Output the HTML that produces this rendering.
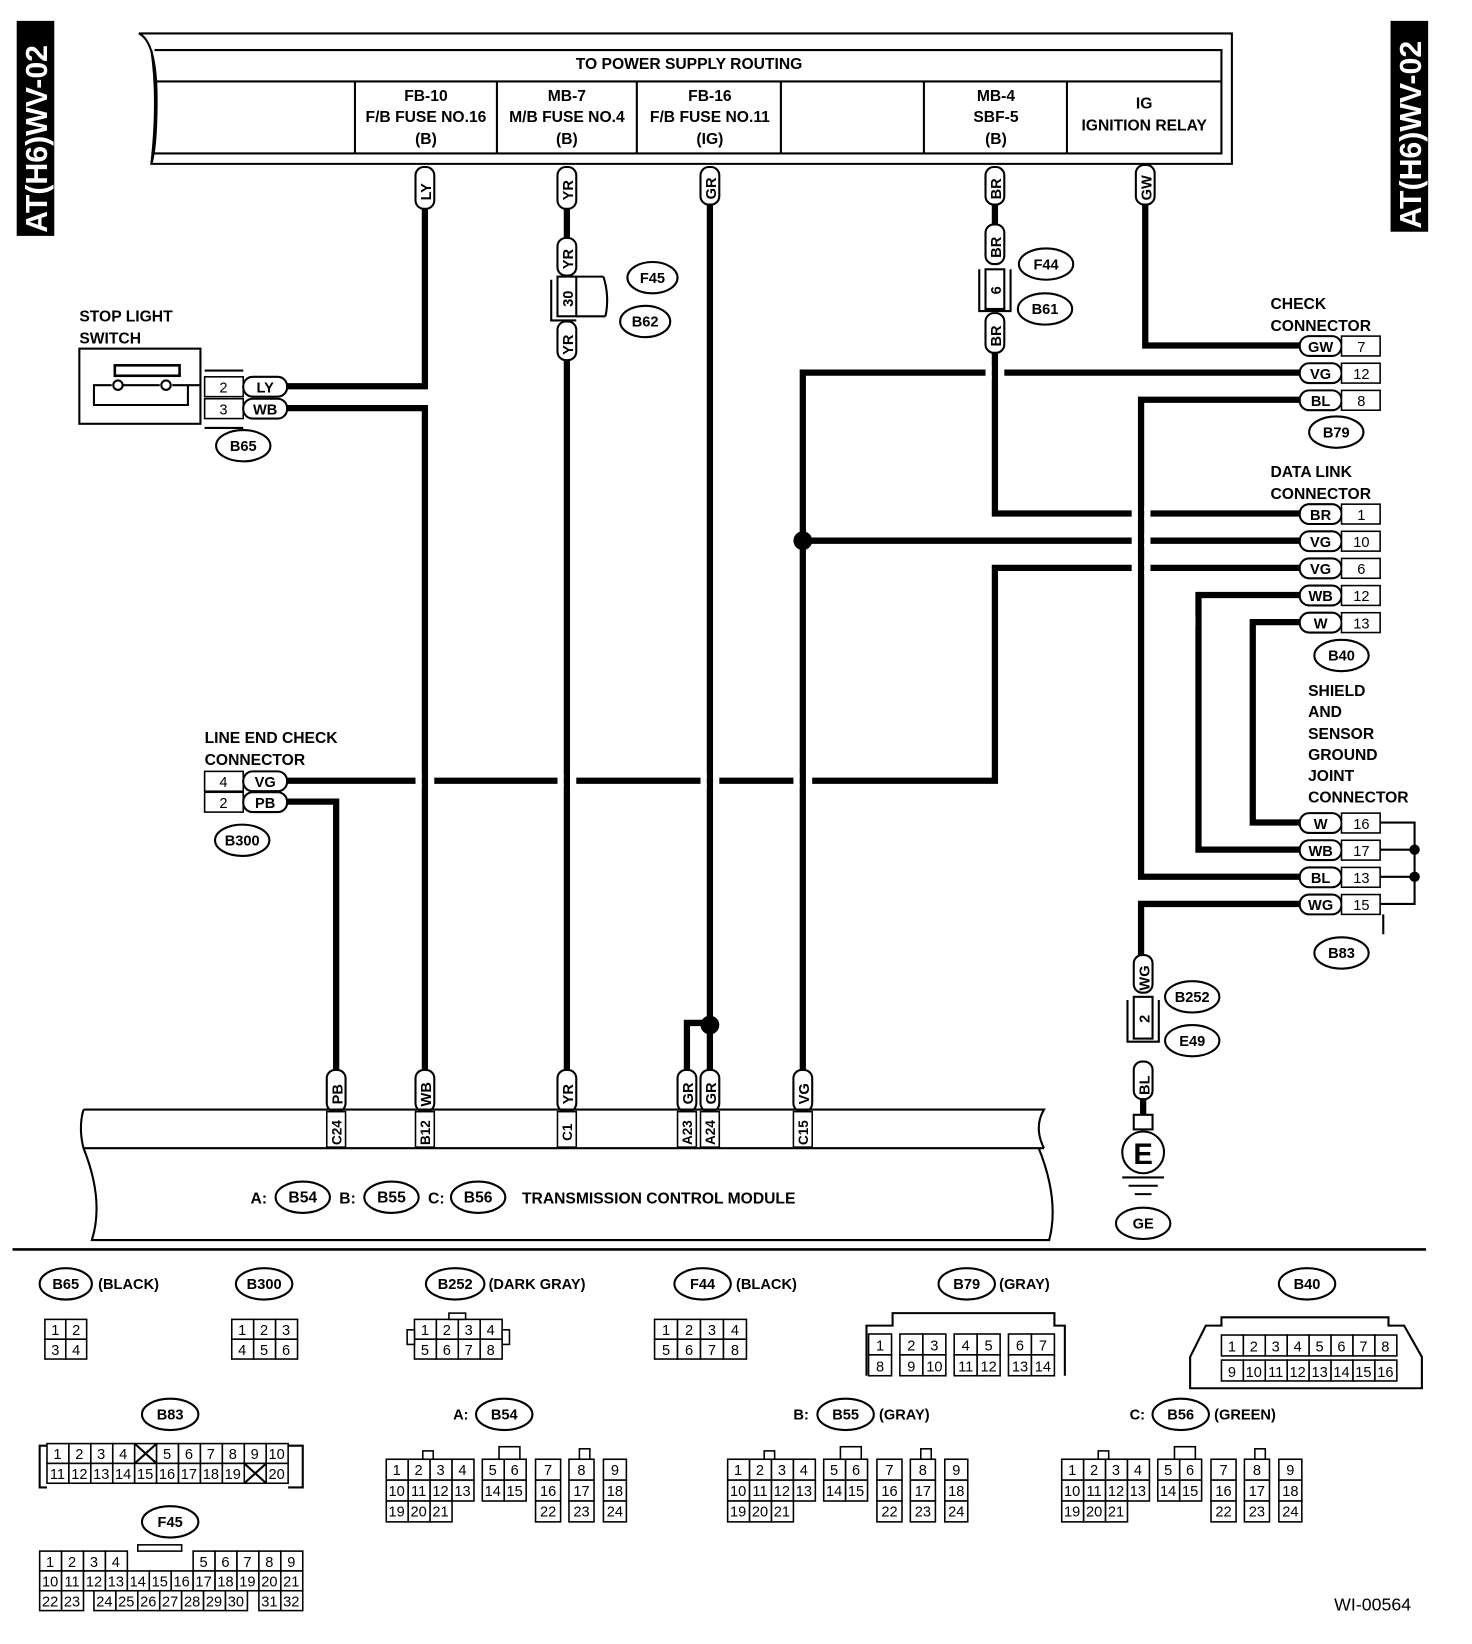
<!DOCTYPE html>
<html><head><meta charset="utf-8"><style>
html,body{margin:0;padding:0;background:#fff}
svg{display:block}
text{font-family:"Liberation Sans",sans-serif;font-weight:bold;fill:#000}
.w{stroke:#000;stroke-width:6;fill:none}
.t{stroke:#000;stroke-width:2;fill:none}
.c rect{fill:#fff;stroke:#000;stroke-width:1.5}
.c text{font-size:14px;font-weight:normal;text-anchor:middle}
.p{fill:#fff;stroke:#000;stroke-width:2}
.o{fill:#fff;stroke:#000;stroke-width:2}
.m{text-anchor:middle}
</style></head><body>
<svg width="1472" height="1644" viewBox="0 0 1410 1575" preserveAspectRatio="none" xmlns="http://www.w3.org/2000/svg">
<rect x="16" y="20" width="36" height="206" fill="#000"/>
<text transform="translate(45,223) rotate(-90)" font-size="29" style="fill:#fff">AT(H6)WV-02</text>
<rect x="1332" y="20" width="36" height="202" fill="#000"/>
<text transform="translate(1361,219) rotate(-90)" font-size="29" style="fill:#fff">AT(H6)WV-02</text>

<path class="t" d="M133 32 H1180 V157 H145 Q152 95 145 48" stroke-width="2.5"/>
<path class="t" d="M133 32 Q150 40 150 95 Q150 140 145 157"/>
<path class="t" d="M148 48 H1170 V147 H145"/>
<path class="t" d="M150 78 H1170"/>
<path class="t" d="M340 78V147M476 78V147M610 78V147M748 78V147M885 78V147M1022 78V147"/>
<text x="660" y="66" font-size="15" class="m">TO POWER SUPPLY ROUTING</text>
<g font-size="15" class="m">
<text x="408" y="97">FB-10</text><text x="408" y="117">F/B FUSE NO.16</text><text x="408" y="138">(B)</text>
<text x="543" y="97">MB-7</text><text x="543" y="117">M/B FUSE NO.4</text><text x="543" y="138">(B)</text>
<text x="680" y="97">FB-16</text><text x="680" y="117">F/B FUSE NO.11</text><text x="680" y="138">(IG)</text>
<text x="954" y="97">MB-4</text><text x="954" y="117">SBF-5</text><text x="954" y="138">(B)</text>
<text x="1096" y="104">IG</text><text x="1096" y="125">IGNITION RELAY</text>
</g>

<g class="w">
<path d="M407 200V370H275"/>
<path d="M275 391H407V1030"/>
<path d="M543 200V228M543 345V1030"/>
<path d="M680 195V1030M680 980H658V1030"/>
<path d="M953 195V215M953 338V492H1245"/>
<path d="M1097 195V331H1245"/>
<path d="M769 1030V357H1245"/>
<path d="M769 518H1245"/>
<path d="M1245 383H1093V840H1245"/>
<path d="M1245 544H953V748H275"/>
<path d="M1245 570H1148V814H1245"/>
<path d="M1245 596H1200V788H1245"/>
<path d="M1245 866H1093V915"/>
<path d="M275 768H322V1030"/>
<path d="M1095 1053V1068"/>
</g>
<g fill="#fff">
<rect x="398" y="742" width="6" height="12"/><rect x="410" y="742" width="6" height="12"/>
<rect x="534" y="742" width="6" height="12"/><rect x="546" y="742" width="6" height="12"/>
<rect x="671" y="742" width="6" height="12"/><rect x="683" y="742" width="6" height="12"/>
<rect x="760" y="742" width="6" height="12"/><rect x="772" y="742" width="6" height="12"/>
<rect x="944" y="351" width="6" height="12"/><rect x="956" y="351" width="6" height="12"/>
<rect x="1084" y="486" width="6" height="12"/><rect x="1096" y="486" width="6" height="12"/>
<rect x="1084" y="512" width="6" height="12"/><rect x="1096" y="512" width="6" height="12"/>
<rect x="1084" y="538" width="6" height="12"/><rect x="1096" y="538" width="6" height="12"/>
<rect x="1139" y="590" width="6" height="12"/>
</g>
<circle cx="769" cy="518" r="9"/><circle cx="680" cy="982" r="9"/>

<g>
<rect class="p" x="398" y="160" width="18" height="40" rx="8"/><text transform="translate(413,192) rotate(-90)" font-size="14">LY</text>
<rect class="p" x="534" y="160" width="18" height="40" rx="8"/><text transform="translate(549,192) rotate(-90)" font-size="14">YR</text>
<rect class="p" x="534" y="228" width="18" height="36" rx="8"/><text transform="translate(549,258) rotate(-90)" font-size="14">YR</text>
<rect class="p" x="534" y="308" width="18" height="37" rx="8"/><text transform="translate(549,340) rotate(-90)" font-size="14">YR</text>
<rect class="p" x="671" y="160" width="18" height="36" rx="8"/><text transform="translate(686,191) rotate(-90)" font-size="14">GR</text>
<rect class="p" x="944" y="160" width="18" height="36" rx="8"/><text transform="translate(959,191) rotate(-90)" font-size="14">BR</text>
<rect class="p" x="944" y="215" width="18" height="38" rx="8"/><text transform="translate(959,247) rotate(-90)" font-size="14">BR</text>
<rect class="p" x="944" y="300" width="18" height="38" rx="8"/><text transform="translate(959,332) rotate(-90)" font-size="14">BR</text>
<rect class="p" x="1088" y="158" width="18" height="38" rx="8"/><text transform="translate(1103,192) rotate(-90)" font-size="14">GW</text>
<rect class="p" x="1086" y="915" width="18" height="36" rx="8"/><text transform="translate(1101,949) rotate(-90)" font-size="14">WG</text>
<rect class="p" x="1086" y="1017" width="18" height="36" rx="8"/><text transform="translate(1101,1049) rotate(-90)" font-size="14">BL</text>
<rect class="p" x="313" y="1025" width="18" height="40" rx="8"/><text transform="translate(328,1058) rotate(-90)" font-size="14">PB</text>
<rect class="p" x="398" y="1025" width="18" height="40" rx="8"/><text transform="translate(413,1060) rotate(-90)" font-size="14">WB</text>
<rect class="p" x="534" y="1025" width="18" height="40" rx="8"/><text transform="translate(549,1058) rotate(-90)" font-size="14">YR</text>
<rect class="p" x="649" y="1025" width="18" height="40" rx="8"/><text transform="translate(664,1058) rotate(-90)" font-size="14">GR</text>
<rect class="p" x="671" y="1025" width="18" height="40" rx="8"/><text transform="translate(686,1058) rotate(-90)" font-size="14">GR</text>
<rect class="p" x="760" y="1025" width="18" height="40" rx="8"/><text transform="translate(775,1058) rotate(-90)" font-size="14">VG</text>
</g>
<rect class="p" x="534" y="265" width="18" height="38"/><text transform="translate(549,294) rotate(-90)" font-size="14">30</text>
<path class="t" d="M528 268V307H552M552 265H578M552 303H580M578 265Q584 284 580 303"/>
<rect class="p" x="944" y="258" width="18" height="38"/><text transform="translate(959,282) rotate(-90)" font-size="14">6</text>
<path class="t" d="M938 258V298H968V258"/>
<rect class="p" x="1086" y="955" width="18" height="40"/><text transform="translate(1101,980) rotate(-90)" font-size="14">2</text>
<path class="t" d="M1080 958V998H1110V958"/>
<rect class="p" x="1086" y="1068" width="18" height="14"/>
<circle class="o" cx="1095" cy="1104" r="20" stroke-width="3"/>
<text x="1095" y="1115" font-size="28" class="m">E</text>
<path class="t" d="M1075 1128H1115M1081 1136H1109M1087 1144H1103" stroke-width="2.5"/>

<g font-size="14" class="m">
<ellipse class="o" cx="625" cy="266" rx="24" ry="15"/><text x="625" y="271">F45</text>
<ellipse class="o" cx="618" cy="308" rx="24" ry="15"/><text x="618" y="313">B62</text>
<ellipse class="o" cx="1002" cy="253" rx="26" ry="15"/><text x="1002" y="258">F44</text>
<ellipse class="o" cx="1001" cy="296" rx="26" ry="15"/><text x="1001" y="301">B61</text>
<ellipse class="o" cx="233" cy="427" rx="26" ry="15"/><text x="233" y="432">B65</text>
<ellipse class="o" cx="232" cy="805" rx="26" ry="15"/><text x="232" y="810">B300</text>
<ellipse class="o" cx="1280" cy="414" rx="26" ry="15"/><text x="1280" y="419">B79</text>
<ellipse class="o" cx="1285" cy="628" rx="26" ry="15"/><text x="1285" y="633">B40</text>
<ellipse class="o" cx="1285" cy="913" rx="26" ry="15"/><text x="1285" y="918">B83</text>
<ellipse class="o" cx="1142" cy="955" rx="26" ry="15"/><text x="1142" y="960">B252</text>
<ellipse class="o" cx="1142" cy="997" rx="26" ry="15"/><text x="1142" y="1002">E49</text>
<ellipse class="o" cx="1095" cy="1172" rx="26" ry="15"/><text x="1095" y="1177">GE</text>
</g>

<text x="76" y="308" font-size="15">STOP LIGHT</text><text x="76" y="329" font-size="15">SWITCH</text>
<rect class="t" x="76" y="334" width="116" height="72"/>
<rect x="110" y="350" width="62" height="10" fill="none" stroke="#000" stroke-width="2.5"/>
<path class="t" d="M107 369H90V388H180V369H188M118 369H153M165 369H192"/>
<circle cx="113" cy="369" r="4.5" fill="#fff" stroke="#000" stroke-width="2"/><circle cx="159" cy="369" r="4.5" fill="#fff" stroke="#000" stroke-width="2"/>
<path class="t" d="M196 355H233M196 410H233"/>
<g class="c"><rect x="196" y="361" width="37" height="19"/><text x="214" y="376">2</text><rect x="196" y="382" width="37" height="19"/><text x="214" y="397">3</text></g>
<rect class="p" x="233" y="361" width="42" height="19" rx="9"/><text x="254" y="376" font-size="14" class="m">LY</text>
<rect class="p" x="233" y="382" width="42" height="19" rx="9"/><text x="254" y="397" font-size="14" class="m">WB</text>

<text x="196" y="712" font-size="15">LINE END CHECK</text><text x="196" y="733" font-size="15">CONNECTOR</text>
<g class="c"><rect x="196" y="739" width="37" height="19"/><text x="214" y="754">4</text><rect x="196" y="759" width="37" height="19"/><text x="214" y="774">2</text></g>
<rect class="p" x="233" y="739" width="42" height="19" rx="9"/><text x="254" y="754" font-size="14" class="m">VG</text>
<rect class="p" x="233" y="759" width="42" height="19" rx="9"/><text x="254" y="774" font-size="14" class="m">PB</text>

<text x="1217" y="296" font-size="15">CHECK</text><text x="1217" y="317" font-size="15">CONNECTOR</text>
<text x="1217" y="457" font-size="15">DATA LINK</text><text x="1217" y="478" font-size="15">CONNECTOR</text>
<g font-size="15"><text x="1253" y="667">SHIELD</text><text x="1253" y="687">AND</text><text x="1253" y="708">SENSOR</text><text x="1253" y="728">GROUND</text><text x="1253" y="748">JOINT</text><text x="1253" y="769">CONNECTOR</text></g>
<g font-size="14" class="m">
<rect class="p" x="1245" y="322" width="40" height="19" rx="9"/><text x="1265" y="337">GW</text>
<rect class="p" x="1245" y="348" width="40" height="19" rx="9"/><text x="1265" y="363">VG</text>
<rect class="p" x="1245" y="374" width="40" height="19" rx="9"/><text x="1265" y="389">BL</text>
<rect class="p" x="1245" y="483" width="40" height="19" rx="9"/><text x="1265" y="498">BR</text>
<rect class="p" x="1245" y="509" width="40" height="19" rx="9"/><text x="1265" y="524">VG</text>
<rect class="p" x="1245" y="535" width="40" height="19" rx="9"/><text x="1265" y="550">VG</text>
<rect class="p" x="1245" y="561" width="40" height="19" rx="9"/><text x="1265" y="576">WB</text>
<rect class="p" x="1245" y="587" width="40" height="19" rx="9"/><text x="1265" y="602">W</text>
<rect class="p" x="1245" y="779" width="40" height="19" rx="9"/><text x="1265" y="794">W</text>
<rect class="p" x="1245" y="805" width="40" height="19" rx="9"/><text x="1265" y="820">WB</text>
<rect class="p" x="1245" y="831" width="40" height="19" rx="9"/><text x="1265" y="846">BL</text>
<rect class="p" x="1245" y="857" width="40" height="19" rx="9"/><text x="1265" y="872">WG</text>
</g>
<g class="c">
<rect x="1285" y="322" width="37" height="19"/><text x="1304" y="337">7</text>
<rect x="1285" y="348" width="37" height="19"/><text x="1304" y="363">12</text>
<rect x="1285" y="374" width="37" height="19"/><text x="1304" y="389">8</text>
<rect x="1285" y="483" width="37" height="19"/><text x="1304" y="498">1</text>
<rect x="1285" y="509" width="37" height="19"/><text x="1304" y="524">10</text>
<rect x="1285" y="535" width="37" height="19"/><text x="1304" y="550">6</text>
<rect x="1285" y="561" width="37" height="19"/><text x="1304" y="576">12</text>
<rect x="1285" y="587" width="37" height="19"/><text x="1304" y="602">13</text>
<rect x="1285" y="779" width="37" height="19"/><text x="1304" y="794">16</text>
<rect x="1285" y="805" width="37" height="19"/><text x="1304" y="820">17</text>
<rect x="1285" y="831" width="37" height="19"/><text x="1304" y="846">13</text>
<rect x="1285" y="857" width="37" height="19"/><text x="1304" y="872">15</text>
</g>
<path class="t" d="M1322 788H1355V866H1322M1322 814H1355M1322 840H1355M1325 876V895"/>
<circle cx="1355" cy="814" r="5"/><circle cx="1355" cy="840" r="5"/>

<path class="t" d="M80 1063H1000Q990 1080 1000 1100M80 1063Q75 1080 80 1100H1000M80 1100Q100 1150 88 1188H1005Q1015 1150 995 1100" stroke-width="2.5"/>
<g class="c">
<rect x="313" y="1065" width="18" height="34"/><rect x="398" y="1065" width="18" height="34"/><rect x="534" y="1065" width="18" height="34"/><rect x="649" y="1065" width="18" height="34"/><rect x="671" y="1065" width="18" height="34"/><rect x="760" y="1065" width="18" height="34"/>
</g>
<g font-size="13">
<text transform="translate(327,1097) rotate(-90)">C24</text>
<text transform="translate(412,1097) rotate(-90)">B12</text>
<text transform="translate(548,1093) rotate(-90)">C1</text>
<text transform="translate(663,1097) rotate(-90)">A23</text>
<text transform="translate(685,1097) rotate(-90)">A24</text>
<text transform="translate(774,1097) rotate(-90)">C15</text>
</g>
<g font-size="15">
<text x="240" y="1153">A:</text><ellipse class="o" cx="290" cy="1147" rx="26" ry="15"/><text x="290" y="1152" class="m">B54</text>
<text x="325" y="1153">B:</text><ellipse class="o" cx="375" cy="1147" rx="26" ry="15"/><text x="375" y="1152" class="m">B55</text>
<text x="410" y="1153">C:</text><ellipse class="o" cx="458" cy="1147" rx="26" ry="15"/><text x="458" y="1152" class="m">B56</text>
<text x="500" y="1153">TRANSMISSION CONTROL MODULE</text>
</g>
<path d="M12 1197H1366" stroke="#000" stroke-width="2.5"/>

<g font-size="14">
<ellipse class="o" cx="63" cy="1230" rx="25" ry="15"/><text x="63" y="1235" class="m">B65</text><text x="94" y="1235">(BLACK)</text>
<ellipse class="o" cx="253" cy="1230" rx="27" ry="15"/><text x="253" y="1235" class="m">B300</text>
<ellipse class="o" cx="436" cy="1230" rx="28" ry="15"/><text x="436" y="1235" class="m">B252</text><text x="468" y="1235">(DARK GRAY)</text>
<ellipse class="o" cx="673" cy="1230" rx="27" ry="15"/><text x="673" y="1235" class="m">F44</text><text x="705" y="1235">(BLACK)</text>
<ellipse class="o" cx="926" cy="1230" rx="27" ry="15"/><text x="926" y="1235" class="m">B79</text><text x="957" y="1235">(GRAY)</text>
<ellipse class="o" cx="1252" cy="1230" rx="27" ry="15"/><text x="1252" y="1235" class="m">B40</text>
<ellipse class="o" cx="163" cy="1355" rx="27" ry="15"/><text x="163" y="1360" class="m">B83</text>
<ellipse class="o" cx="163" cy="1458" rx="27" ry="15"/><text x="163" y="1463" class="m">F45</text>
<text x="434" y="1360">A:</text><ellipse class="o" cx="483" cy="1355" rx="27" ry="15"/><text x="483" y="1360" class="m">B54</text>
<text x="760" y="1360">B:</text><ellipse class="o" cx="810" cy="1355" rx="27" ry="15"/><text x="810" y="1360" class="m">B55</text><text x="842" y="1360">(GRAY)</text>
<text x="1082" y="1360">C:</text><ellipse class="o" cx="1131" cy="1355" rx="27" ry="15"/><text x="1131" y="1360" class="m">B56</text><text x="1163" y="1360">(GREEN)</text>
</g>

<g class="c">
<rect x="43" y="1264" width="20" height="19"/><text x="53" y="1279">1</text><rect x="63" y="1264" width="20" height="19"/><text x="73" y="1279">2</text>
<rect x="43" y="1283" width="20" height="19"/><text x="53" y="1298">3</text><rect x="63" y="1283" width="20" height="19"/><text x="73" y="1298">4</text>
<rect x="222" y="1264" width="21" height="19"/><text x="232" y="1279">1</text><rect x="243" y="1264" width="21" height="19"/><text x="253" y="1279">2</text><rect x="264" y="1264" width="21" height="19"/><text x="274" y="1279">3</text>
<rect x="222" y="1283" width="21" height="19"/><text x="232" y="1298">4</text><rect x="243" y="1283" width="21" height="19"/><text x="253" y="1298">5</text><rect x="264" y="1283" width="21" height="19"/><text x="274" y="1298">6</text>
<rect x="397" y="1264" width="21" height="19"/><text x="407" y="1279">1</text><rect x="418" y="1264" width="21" height="19"/><text x="428" y="1279">2</text><rect x="439" y="1264" width="21" height="19"/><text x="449" y="1279">3</text><rect x="460" y="1264" width="21" height="19"/><text x="470" y="1279">4</text>
<rect x="397" y="1283" width="21" height="19"/><text x="407" y="1298">5</text><rect x="418" y="1283" width="21" height="19"/><text x="428" y="1298">6</text><rect x="439" y="1283" width="21" height="19"/><text x="449" y="1298">7</text><rect x="460" y="1283" width="21" height="19"/><text x="470" y="1298">8</text>
<rect x="390" y="1274" width="7" height="14"/><rect x="481" y="1274" width="7" height="14"/><rect x="430" y="1258" width="16" height="6"/>
<rect x="627" y="1264" width="22" height="19"/><text x="638" y="1279">1</text><rect x="649" y="1264" width="22" height="19"/><text x="660" y="1279">2</text><rect x="671" y="1264" width="22" height="19"/><text x="682" y="1279">3</text><rect x="693" y="1264" width="22" height="19"/><text x="704" y="1279">4</text>
<rect x="627" y="1283" width="22" height="19"/><text x="638" y="1298">5</text><rect x="649" y="1283" width="22" height="19"/><text x="660" y="1298">6</text><rect x="671" y="1283" width="22" height="19"/><text x="682" y="1298">7</text><rect x="693" y="1283" width="22" height="19"/><text x="704" y="1298">8</text>
<rect x="832" y="1278" width="22" height="20"/><text x="843" y="1294">1</text><rect x="862" y="1278" width="22" height="20"/><text x="873" y="1294">2</text><rect x="884" y="1278" width="22" height="20"/><text x="895" y="1294">3</text><rect x="914" y="1278" width="22" height="20"/><text x="925" y="1294">4</text><rect x="936" y="1278" width="22" height="20"/><text x="947" y="1294">5</text><rect x="966" y="1278" width="22" height="20"/><text x="977" y="1294">6</text><rect x="988" y="1278" width="22" height="20"/><text x="999" y="1294">7</text>
<rect x="832" y="1298" width="22" height="20"/><text x="843" y="1314">8</text><rect x="862" y="1298" width="22" height="20"/><text x="873" y="1314">9</text><rect x="884" y="1298" width="22" height="20"/><text x="895" y="1314">10</text><rect x="914" y="1298" width="22" height="20"/><text x="925" y="1314">11</text><rect x="936" y="1298" width="22" height="20"/><text x="947" y="1314">12</text><rect x="966" y="1298" width="22" height="20"/><text x="977" y="1314">13</text><rect x="988" y="1298" width="22" height="20"/><text x="999" y="1314">14</text>
</g>
<path class="t" stroke-width="1.5" d="M830 1318V1270H855V1258H1010V1270H1020V1318"/>
<path class="t" stroke-width="1.5" d="M1140 1300V1330H1362V1300L1345 1270H1330V1262H1170V1270H1155Z"/>
<g class="c">
<rect x="1170" y="1279" width="21" height="20"/><text x="1180" y="1295">1</text><rect x="1191" y="1279" width="21" height="20"/><text x="1201" y="1295">2</text><rect x="1212" y="1279" width="21" height="20"/><text x="1222" y="1295">3</text><rect x="1233" y="1279" width="21" height="20"/><text x="1243" y="1295">4</text><rect x="1254" y="1279" width="21" height="20"/><text x="1264" y="1295">5</text><rect x="1275" y="1279" width="21" height="20"/><text x="1285" y="1295">6</text><rect x="1296" y="1279" width="21" height="20"/><text x="1306" y="1295">7</text><rect x="1317" y="1279" width="21" height="20"/><text x="1327" y="1295">8</text>
<rect x="1170" y="1303" width="21" height="20"/><text x="1180" y="1319">9</text><rect x="1191" y="1303" width="21" height="20"/><text x="1201" y="1319">10</text><rect x="1212" y="1303" width="21" height="20"/><text x="1222" y="1319">11</text><rect x="1233" y="1303" width="21" height="20"/><text x="1243" y="1319">12</text><rect x="1254" y="1303" width="21" height="20"/><text x="1264" y="1319">13</text><rect x="1275" y="1303" width="21" height="20"/><text x="1285" y="1319">14</text><rect x="1296" y="1303" width="21" height="20"/><text x="1306" y="1319">15</text><rect x="1317" y="1303" width="21" height="20"/><text x="1327" y="1319">16</text>
<rect x="45" y="1383" width="21" height="19"/><text x="55" y="1398">1</text><rect x="66" y="1383" width="21" height="19"/><text x="76" y="1398">2</text><rect x="87" y="1383" width="21" height="19"/><text x="97" y="1398">3</text><rect x="108" y="1383" width="21" height="19"/><text x="118" y="1398">4</text><rect x="129" y="1383" width="21" height="19"/><rect x="150" y="1383" width="21" height="19"/><text x="160" y="1398">5</text><rect x="171" y="1383" width="21" height="19"/><text x="181" y="1398">6</text><rect x="192" y="1383" width="21" height="19"/><text x="202" y="1398">7</text><rect x="213" y="1383" width="21" height="19"/><text x="223" y="1398">8</text><rect x="234" y="1383" width="21" height="19"/><text x="244" y="1398">9</text><rect x="255" y="1383" width="21" height="19"/><text x="265" y="1398">10</text>
<rect x="45" y="1402" width="21" height="19"/><text x="55" y="1417">11</text><rect x="66" y="1402" width="21" height="19"/><text x="76" y="1417">12</text><rect x="87" y="1402" width="21" height="19"/><text x="97" y="1417">13</text><rect x="108" y="1402" width="21" height="19"/><text x="118" y="1417">14</text><rect x="129" y="1402" width="21" height="19"/><text x="139" y="1417">15</text><rect x="150" y="1402" width="21" height="19"/><text x="160" y="1417">16</text><rect x="171" y="1402" width="21" height="19"/><text x="181" y="1417">17</text><rect x="192" y="1402" width="21" height="19"/><text x="202" y="1417">18</text><rect x="213" y="1402" width="21" height="19"/><text x="223" y="1417">19</text><rect x="234" y="1402" width="21" height="19"/><rect x="255" y="1402" width="21" height="19"/><text x="265" y="1417">20</text>
</g>
<path class="t" stroke-width="1.5" d="M129 1383L150 1402M150 1383L129 1402M234 1402L255 1421M255 1402L234 1421M45 1385H38V1425H45M276 1385H290V1425H276"/>
<g class="c">
<rect x="38" y="1486" width="21" height="19"/><text x="48" y="1501">1</text><rect x="59" y="1486" width="21" height="19"/><text x="69" y="1501">2</text><rect x="80" y="1486" width="21" height="19"/><text x="90" y="1501">3</text><rect x="101" y="1486" width="21" height="19"/><text x="111" y="1501">4</text><rect x="185" y="1486" width="21" height="19"/><text x="195" y="1501">5</text><rect x="206" y="1486" width="21" height="19"/><text x="216" y="1501">6</text><rect x="227" y="1486" width="21" height="19"/><text x="237" y="1501">7</text><rect x="248" y="1486" width="21" height="19"/><text x="258" y="1501">8</text><rect x="269" y="1486" width="21" height="19"/><text x="279" y="1501">9</text>
<rect x="38" y="1505" width="21" height="19"/><text x="48" y="1520">10</text><rect x="59" y="1505" width="21" height="19"/><text x="69" y="1520">11</text><rect x="80" y="1505" width="21" height="19"/><text x="90" y="1520">12</text><rect x="101" y="1505" width="21" height="19"/><text x="111" y="1520">13</text><rect x="122" y="1505" width="21" height="19"/><text x="132" y="1520">14</text><rect x="143" y="1505" width="21" height="19"/><text x="153" y="1520">15</text><rect x="164" y="1505" width="21" height="19"/><text x="174" y="1520">16</text><rect x="185" y="1505" width="21" height="19"/><text x="195" y="1520">17</text><rect x="206" y="1505" width="21" height="19"/><text x="216" y="1520">18</text><rect x="227" y="1505" width="21" height="19"/><text x="237" y="1520">19</text><rect x="248" y="1505" width="21" height="19"/><text x="258" y="1520">20</text><rect x="269" y="1505" width="21" height="19"/><text x="279" y="1520">21</text>
<rect x="38" y="1524" width="21" height="19"/><text x="48" y="1539">22</text><rect x="59" y="1524" width="21" height="19"/><text x="69" y="1539">23</text><rect x="90" y="1524" width="21" height="19"/><text x="100" y="1539">24</text><rect x="111" y="1524" width="21" height="19"/><text x="121" y="1539">25</text><rect x="132" y="1524" width="21" height="19"/><text x="142" y="1539">26</text><rect x="153" y="1524" width="21" height="19"/><text x="163" y="1539">27</text><rect x="174" y="1524" width="21" height="19"/><text x="184" y="1539">28</text><rect x="195" y="1524" width="21" height="19"/><text x="205" y="1539">29</text><rect x="216" y="1524" width="21" height="19"/><text x="226" y="1539">30</text><rect x="248" y="1524" width="21" height="19"/><text x="258" y="1539">31</text><rect x="269" y="1524" width="21" height="19"/><text x="279" y="1539">32</text>
<rect x="132" y="1480" width="42" height="6"/>
</g>

<g class="c">
<rect x="370" y="1398" width="21" height="20"/><text x="380" y="1413">1</text><rect x="391" y="1398" width="21" height="20"/><text x="401" y="1413">2</text><rect x="412" y="1398" width="21" height="20"/><text x="422" y="1413">3</text><rect x="433" y="1398" width="21" height="20"/><text x="443" y="1413">4</text><rect x="462" y="1398" width="21" height="20"/><text x="472" y="1413">5</text><rect x="483" y="1398" width="21" height="20"/><text x="493" y="1413">6</text><rect x="513" y="1398" width="24" height="20"/><text x="525" y="1413">7</text><rect x="545" y="1398" width="24" height="20"/><text x="557" y="1413">8</text><rect x="578" y="1398" width="22" height="20"/><text x="589" y="1413">9</text>
<rect x="370" y="1418" width="21" height="20"/><text x="380" y="1433">10</text><rect x="391" y="1418" width="21" height="20"/><text x="401" y="1433">11</text><rect x="412" y="1418" width="21" height="20"/><text x="422" y="1433">12</text><rect x="433" y="1418" width="21" height="20"/><text x="443" y="1433">13</text><rect x="462" y="1418" width="21" height="20"/><text x="472" y="1433">14</text><rect x="483" y="1418" width="21" height="20"/><text x="493" y="1433">15</text><rect x="513" y="1418" width="24" height="20"/><text x="525" y="1433">16</text><rect x="545" y="1418" width="24" height="20"/><text x="557" y="1433">17</text><rect x="578" y="1418" width="22" height="20"/><text x="589" y="1433">18</text>
<rect x="370" y="1438" width="21" height="20"/><text x="380" y="1453">19</text><rect x="391" y="1438" width="21" height="20"/><text x="401" y="1453">20</text><rect x="412" y="1438" width="21" height="20"/><text x="422" y="1453">21</text><rect x="513" y="1438" width="24" height="20"/><text x="525" y="1453">22</text><rect x="545" y="1438" width="24" height="20"/><text x="557" y="1453">23</text><rect x="578" y="1438" width="22" height="20"/><text x="589" y="1453">24</text>
<rect x="405" y="1390" width="10" height="8"/><rect x="478" y="1386" width="20" height="12"/><rect x="555" y="1388" width="10" height="10"/>
</g>
<g class="c">
<rect x="697" y="1398" width="21" height="20"/><text x="707" y="1413">1</text><rect x="718" y="1398" width="21" height="20"/><text x="728" y="1413">2</text><rect x="739" y="1398" width="21" height="20"/><text x="749" y="1413">3</text><rect x="760" y="1398" width="21" height="20"/><text x="770" y="1413">4</text><rect x="789" y="1398" width="21" height="20"/><text x="799" y="1413">5</text><rect x="810" y="1398" width="21" height="20"/><text x="820" y="1413">6</text><rect x="840" y="1398" width="24" height="20"/><text x="852" y="1413">7</text><rect x="872" y="1398" width="24" height="20"/><text x="884" y="1413">8</text><rect x="905" y="1398" width="22" height="20"/><text x="916" y="1413">9</text>
<rect x="697" y="1418" width="21" height="20"/><text x="707" y="1433">10</text><rect x="718" y="1418" width="21" height="20"/><text x="728" y="1433">11</text><rect x="739" y="1418" width="21" height="20"/><text x="749" y="1433">12</text><rect x="760" y="1418" width="21" height="20"/><text x="770" y="1433">13</text><rect x="789" y="1418" width="21" height="20"/><text x="799" y="1433">14</text><rect x="810" y="1418" width="21" height="20"/><text x="820" y="1433">15</text><rect x="840" y="1418" width="24" height="20"/><text x="852" y="1433">16</text><rect x="872" y="1418" width="24" height="20"/><text x="884" y="1433">17</text><rect x="905" y="1418" width="22" height="20"/><text x="916" y="1433">18</text>
<rect x="697" y="1438" width="21" height="20"/><text x="707" y="1453">19</text><rect x="718" y="1438" width="21" height="20"/><text x="728" y="1453">20</text><rect x="739" y="1438" width="21" height="20"/><text x="749" y="1453">21</text><rect x="840" y="1438" width="24" height="20"/><text x="852" y="1453">22</text><rect x="872" y="1438" width="24" height="20"/><text x="884" y="1453">23</text><rect x="905" y="1438" width="22" height="20"/><text x="916" y="1453">24</text>
<rect x="732" y="1390" width="10" height="8"/><rect x="805" y="1386" width="20" height="12"/><rect x="882" y="1388" width="10" height="10"/>
</g>
<g class="c">
<rect x="1017" y="1398" width="21" height="20"/><text x="1027" y="1413">1</text><rect x="1038" y="1398" width="21" height="20"/><text x="1048" y="1413">2</text><rect x="1059" y="1398" width="21" height="20"/><text x="1069" y="1413">3</text><rect x="1080" y="1398" width="21" height="20"/><text x="1090" y="1413">4</text><rect x="1109" y="1398" width="21" height="20"/><text x="1119" y="1413">5</text><rect x="1130" y="1398" width="21" height="20"/><text x="1140" y="1413">6</text><rect x="1160" y="1398" width="24" height="20"/><text x="1172" y="1413">7</text><rect x="1192" y="1398" width="24" height="20"/><text x="1204" y="1413">8</text><rect x="1225" y="1398" width="22" height="20"/><text x="1236" y="1413">9</text>
<rect x="1017" y="1418" width="21" height="20"/><text x="1027" y="1433">10</text><rect x="1038" y="1418" width="21" height="20"/><text x="1048" y="1433">11</text><rect x="1059" y="1418" width="21" height="20"/><text x="1069" y="1433">12</text><rect x="1080" y="1418" width="21" height="20"/><text x="1090" y="1433">13</text><rect x="1109" y="1418" width="21" height="20"/><text x="1119" y="1433">14</text><rect x="1130" y="1418" width="21" height="20"/><text x="1140" y="1433">15</text><rect x="1160" y="1418" width="24" height="20"/><text x="1172" y="1433">16</text><rect x="1192" y="1418" width="24" height="20"/><text x="1204" y="1433">17</text><rect x="1225" y="1418" width="22" height="20"/><text x="1236" y="1433">18</text>
<rect x="1017" y="1438" width="21" height="20"/><text x="1027" y="1453">19</text><rect x="1038" y="1438" width="21" height="20"/><text x="1048" y="1453">20</text><rect x="1059" y="1438" width="21" height="20"/><text x="1069" y="1453">21</text><rect x="1160" y="1438" width="24" height="20"/><text x="1172" y="1453">22</text><rect x="1192" y="1438" width="24" height="20"/><text x="1204" y="1453">23</text><rect x="1225" y="1438" width="22" height="20"/><text x="1236" y="1453">24</text>
<rect x="1052" y="1390" width="10" height="8"/><rect x="1125" y="1386" width="20" height="12"/><rect x="1202" y="1388" width="10" height="10"/>
</g>

<text x="1278" y="1543" font-size="17" style="font-weight:normal">WI-00564</text>
</svg>
</body></html>
